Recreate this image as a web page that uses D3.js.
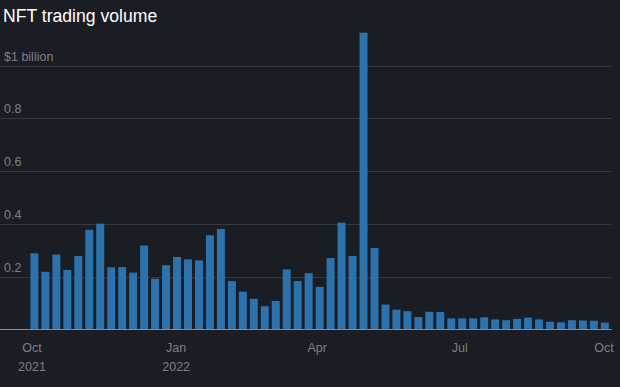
<!DOCTYPE html>
<html>
<head>
<meta charset="utf-8">
<script src="https://cdn.jsdelivr.net/npm/d3@7"></script>
<style>
	html, body { margin: 0; padding: 0; background: #1b1d24; }
	svg { display: block; font-family: "Liberation Sans", Arial, Helvetica, sans-serif; }
</style>
</head>
<body>
<div id="chart"></div>
<script>
// Weekly NFT trading volume, billions of USD
var firstWeek = "2021-09-30";
var volumes = [
	0.290, 0.220, 0.285, 0.227, 0.280, 0.379, 0.402, 0.237, 0.238, 0.217,
	0.319, 0.194, 0.245, 0.276, 0.267, 0.263, 0.358, 0.382, 0.185, 0.145,
	0.118, 0.090, 0.110, 0.229, 0.185, 0.215, 0.163, 0.272, 0.406, 0.280,
	1.124, 0.310, 0.096, 0.077, 0.071, 0.049, 0.069, 0.068, 0.044, 0.044,
	0.044, 0.048, 0.040, 0.037, 0.042, 0.047, 0.040, 0.031, 0.029, 0.037,
	0.036, 0.035, 0.028
];
var yTicks = [0.2, 0.4, 0.6, 0.8, 1];
var yTickLabels = ["0.2", "0.4", "0.6", "0.8", "$1 billion"];
var xTicks = ["2021-10-01", "2022-01-01", "2022-04-01", "2022-07-01", "2022-10-01"];
var xTickLabels = ["Oct", "Jan", "Apr", "Jul", "Oct"];
var xTickYears = ["2021", "2022", "", "", ""];

var width = 620, height = 387;
var parse = d3.timeParse("%Y-%m-%d");
var start = parse(firstWeek);
var weeks = volumes.map(function(v, i){ return { date: d3.timeDay.offset(start, i * 7), value: v }; });

var x = d3.scaleTime()
	.domain([parse("2021-10-01"), parse("2022-10-01")])
	.range([32, 604]);
var y = d3.scaleLinear()
	.domain([0, 1])
	.range([330, 65.5]);

var svg = d3.select("#chart").append("svg")
	.attr("width", width)
	.attr("height", height);

svg.append("rect")
	.attr("width", width).attr("height", height)
	.attr("fill", "#1b1d24");

// Title
svg.append("text")
	.attr("x", 3).attr("y", 22)
	.attr("fill", "#ffffff")
	.style("font-size", "17.6px")
	.text("NFT trading volume");

// Gridlines and y labels
var grid = svg.append("g").attr("class", "grid");
grid.selectAll("line")
	.data(yTicks)
	.enter().append("line")
	.attr("x1", 0).attr("x2", 612)
	.attr("y1", function(d){ return Math.round(y(d)) + 0.5; })
	.attr("y2", function(d){ return Math.round(y(d)) + 0.5; })
	.attr("stroke", "#363941")
	.attr("stroke-width", 1);
grid.selectAll("text")
	.data(yTicks)
	.enter().append("text")
	.attr("x", 4)
	.attr("y", function(d){ return y(d) - 5; })
	.attr("fill", "#7d8087")
	.style("font-size", "12.5px")
	.text(function(d, i){ return yTickLabels[i]; });

// Bars
svg.append("g").attr("class", "bars")
	.selectAll("rect")
	.data(weeks)
	.enter().append("rect")
	.attr("x", function(d){ return x(d.date); })
	.attr("width", function(d){ return x(d3.timeDay.offset(d.date, 7)) - x(d.date) - 3; })
	.attr("y", function(d){ return y(d.value); })
	.attr("height", function(d){ return y(0) - y(d.value); })
	.attr("fill", "#2c73ad");

// Baseline
svg.append("line")
	.attr("x1", 0).attr("x2", 612)
	.attr("y1", 329.5).attr("y2", 329.5)
	.attr("stroke", "#8a8c92")
	.attr("stroke-width", 1);

// X axis labels
var xAxis = svg.append("g").attr("class", "x axis");
xAxis.selectAll("text.month")
	.data(xTicks)
	.enter().append("text")
	.attr("class", "month")
	.attr("x", function(d){ return x(parse(d)); })
	.attr("y", 352)
	.attr("text-anchor", "middle")
	.attr("fill", "#7d8087")
	.style("font-size", "12.5px")
	.text(function(d, i){ return xTickLabels[i]; });
xAxis.selectAll("text.year")
	.data(xTicks)
	.enter().append("text")
	.attr("class", "year")
	.attr("x", function(d){ return x(parse(d)); })
	.attr("y", 371)
	.attr("text-anchor", "middle")
	.attr("fill", "#7d8087")
	.style("font-size", "12.5px")
	.text(function(d, i){ return xTickYears[i]; });
</script>
</body>
</html>
